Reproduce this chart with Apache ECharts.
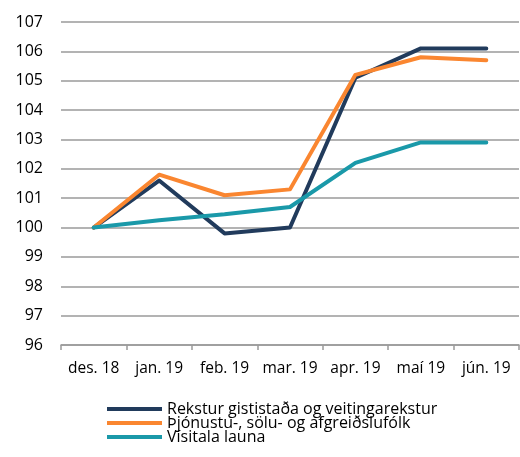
<!DOCTYPE html>
<html>
<head>
<meta charset="utf-8">
<script src="https://cdn.jsdelivr.net/npm/echarts@6/dist/echarts.min.js"></script>
<style>
  html, body { margin: 0; padding: 0; background: #fff; }
  #main { width: 520px; height: 457px; }
</style>
</head>
<body>
<div id="main"></div>
<script>
// tick labels / categories
const months = ['des. 18', 'jan. 19', 'feb. 19', 'mar. 19', 'apr. 19', 'maí 19', 'jún. 19']

// series values (index, des. 18 = 100)
const rekstur = [100, 101.6, 99.8, 100.0, 105.1, 106.1, 106.1]
const thjonusta = [100, 101.8, 101.1, 101.3, 105.2, 105.8, 105.7]
const visitala = [100, 100.25, 100.45, 100.7, 102.2, 102.9, 102.9]

const names = [
  'Rekstur gististaða og veitingarekstur',
  'Þjónustu-, sölu- og afgreiðslufólk',
  'Vísitala launa'
]
const colors = ['#213B5C', '#FA8630', '#1A99A9']

const font = '"Open Sans", "Noto Sans", sans-serif'

function line (name, data, color) {
  return {
    name: name,
    type: 'line',
    data: data,
    symbol: 'none',
    lineStyle: { width: 4, color: color, cap: 'round', join: 'round' },
    itemStyle: { color: color },
    animation: false
  }
}

const chart = echarts.init(document.getElementById('main'))
chart.setOption({
  animation: false,
  textStyle: { fontFamily: font },
  grid: {
    left: 61,
    right: 1,
    top: 22,
    bottom: 112
  },
  legend: {
    orient: 'vertical',
    left: 107,
    top: 401,
    padding: 0,
    icon: 'rect',
    itemWidth: 55,
    itemHeight: 4,
    itemGap: -2,
    textStyle: { fontFamily: font, fontSize: 16, color: '#000', lineHeight: 13.5 },
    data: names
  },
  xAxis: {
    type: 'category',
    data: months,
    boundaryGap: true,
    axisLine: { lineStyle: { color: '#9A9A9A', width: 1.5 } },
    axisTick: { show: true, length: 5, lineStyle: { color: '#9A9A9A', width: 1.5 } },
    axisLabel: { color: '#000', fontSize: 15.5, margin: 16, interval: 0, fontFamily: font },
    splitLine: { show: false }
  },
  yAxis: {
    type: 'value',
    min: 96,
    max: 107,
    interval: 1,
    axisLine: { show: false },
    axisTick: { show: false },
    axisLabel: { color: '#000', fontSize: 16, margin: 18, fontFamily: font },
    splitLine: { lineStyle: { color: '#9A9A9A', width: 1.5 } }
  },
  series: [
    line(names[0], rekstur, colors[0]),
    line(names[1], thjonusta, colors[1]),
    line(names[2], visitala, colors[2])
  ]
})
</script>
</body>
</html>
